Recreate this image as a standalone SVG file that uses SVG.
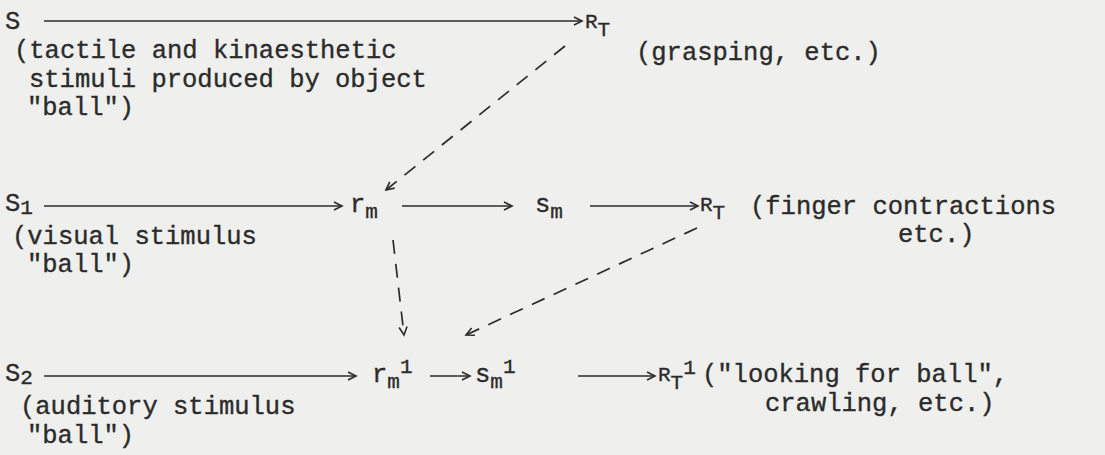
<svg xmlns="http://www.w3.org/2000/svg" width="1105" height="455" viewBox="0 0 1105 455">
<style>
.t{font-family:"Liberation Mono","Courier New",monospace;font-size:25.5px;fill:#2b2b2b;stroke:#2b2b2b;stroke-width:0.35}
.s{font-size:21px}
.r{font-size:21px}
.a{stroke:#2b2b2b;stroke-width:1.6;fill:none}
.d{stroke:#2b2b2b;stroke-width:1.7;fill:none;stroke-dasharray:14 10}
</style>
<defs>
<marker id="ah" markerUnits="userSpaceOnUse" markerWidth="12" markerHeight="12" refX="9" refY="5" orient="auto">
<path d="M1,1 L9,5 L1,9" fill="none" stroke="#2b2b2b" stroke-width="1.6"/>
</marker>
</defs>
<rect width="1105" height="455" fill="#efefed"/>
<g id="S"><text class="t" x="5" y="29">S</text>
<text class="t" x="14" y="58">(tactile and kinaesthetic</text>
<text class="t" x="29" y="87">stimuli produced by object</text>
<text class="t" x="27" y="115">"ball")</text></g>
<g id="RT_top"><text class="t r" x="585" y="28">R<tspan dy="8">T</tspan></text>
<text class="t" x="636" y="60">(grasping, etc.)</text></g>
<g id="S1"><text class="t" x="5" y="211">S<tspan class="s" dy="3">1</tspan></text>
<text class="t" x="12" y="244">(visual stimulus</text>
<text class="t" x="27" y="272">"ball")</text></g>
<g id="rm"><text class="t" x="350" y="212">r<tspan class="s" dy="6">m</tspan></text></g>
<g id="sm"><text class="t" x="535" y="212">s<tspan class="s" dy="6">m</tspan></text></g>
<g id="RT_mid"><text class="t r" x="700" y="211">R<tspan dy="8">T</tspan></text>
<text class="t" x="750" y="214">(finger contractions</text>
<text class="t" x="898" y="242">etc.)</text></g>
<g id="S2"><text class="t" x="5" y="381">S<tspan class="s" dy="3">2</tspan></text>
<text class="t" x="20" y="414">(auditory stimulus</text>
<text class="t" x="27" y="443">"ball")</text></g>
<g id="rm1"><text class="t" x="372" y="382">r<tspan class="s" dy="6">m</tspan><tspan class="s" dy="-15">1</tspan></text></g>
<g id="sm1"><text class="t" x="475" y="382">s<tspan class="s" dy="6">m</tspan><tspan class="s" dy="-15">1</tspan></text></g>
<g id="RT1"><text class="t" x="658" y="381"><tspan class="r">R</tspan><tspan class="r" dy="8">T</tspan><tspan class="s" dy="-15">1</tspan></text>
<text class="t" x="702" y="382">("looking for ball",</text>
<text class="t" x="765" y="411">crawling, etc.)</text></g>
<g id="connectors">
<line class="a" x1="44" y1="21" x2="582" y2="21" marker-end="url(#ah)"/>
<line class="a" x1="44" y1="206" x2="342" y2="206" marker-end="url(#ah)"/>
<line class="a" x1="402" y1="206" x2="512" y2="206" marker-end="url(#ah)"/>
<line class="a" x1="590" y1="206" x2="698" y2="206" marker-end="url(#ah)"/>
<line class="a" x1="44" y1="376" x2="356" y2="376" marker-end="url(#ah)"/>
<line class="a" x1="430" y1="376" x2="470" y2="376" marker-end="url(#ah)"/>
<line class="a" x1="578" y1="376" x2="655" y2="376" marker-end="url(#ah)"/>
<line class="d" x1="565" y1="46" x2="386" y2="190" marker-end="url(#ah)"/>
<line class="d" x1="393" y1="240" x2="404" y2="335" marker-end="url(#ah)"/>
<line class="d" x1="697" y1="228" x2="466" y2="335" marker-end="url(#ah)"/>
</g>
</svg>
